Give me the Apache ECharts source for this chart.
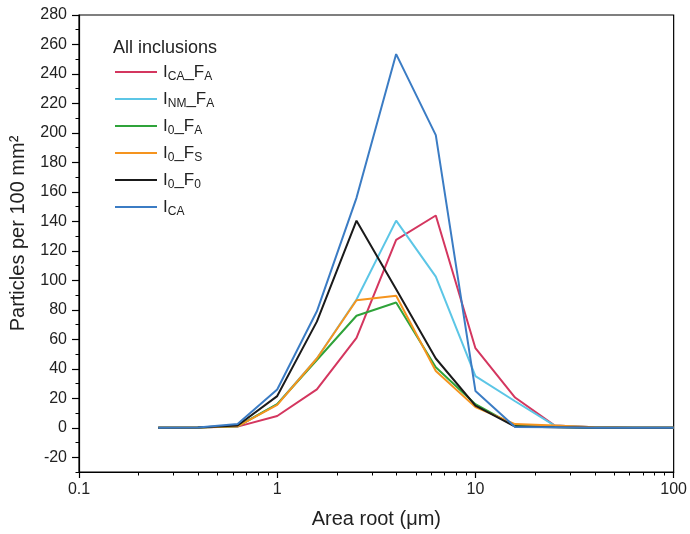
<!DOCTYPE html>
<html>
<head>
<meta charset="utf-8">
<title>Particle size distribution</title>
<script src="https://cdn.jsdelivr.net/npm/echarts@6/dist/echarts.min.js"></script>
<style>
  html, body { margin: 0; padding: 0; background: #fff; }
  #chart { width: 690px; height: 534px; }
</style>
</head>
<body>
<div id="chart"></div>
<script>
// Size classes (area root, µm) on a log axis
const areaRoot = [0.251, 0.398, 0.631, 1, 1.585, 2.512, 3.981, 6.31, 10, 15.85, 25.12, 39.81, 63.1, 100];

// Particles per 100 mm² for each inclusion class
const ica_fa = [0, 0.2, 0.8, 8, 26, 61, 127.5, 144, 54, 20.5, 1.5, 0.3, 0, 0];
const inm_fa = [0, 0.2, 1, 16, 47, 87, 140.5, 102.5, 35, 18, 1.5, 0.3, 0, 0];
const i0_fa  = [0, 0.2, 1, 16, 46, 76, 85, 41, 16, 1.2, 0.5, 0, 0, 0];
const i0_fs  = [0, 0.2, 1, 15.5, 47, 86.5, 89.5, 38.5, 14, 2.5, 1.5, 0.3, 0, 0];
const i0_f0  = [0, 0.2, 1.5, 21.5, 72, 140.5, 94, 47, 15, 0.8, 0.3, 0, 0, 0];
const ica    = [0, 0.2, 2.5, 26, 79, 156, 253.5, 198.5, 25, 0.5, 0.3, 0, 0, 0];

// Tick values
const yMajorTicks = [-20, 0, 20, 40, 60, 80, 100, 120, 140, 160, 180, 200, 220, 240, 260, 280];
const xMinorTicks = [0.2, 0.3, 0.4, 0.5, 0.6, 0.7, 0.8, 0.9,
                     2, 3, 4, 5, 6, 7, 8, 9,
                     20, 30, 40, 50, 60, 70, 80, 90];

// Legend labels as rich text: main letter + subscript
const seriesDefs = [
  { name: 'ICA_FA', label: 'I{s|CA}_F{s|A}', data: ica_fa, color: '#d4365f' },
  { name: 'INM_FA', label: 'I{s|NM}_F{s|A}', data: inm_fa, color: '#5cc6e6' },
  { name: 'I0_FA',  label: 'I{s|0}_F{s|A}',  data: i0_fa,  color: '#2fa33a' },
  { name: 'I0_FS',  label: 'I{s|0}_F{s|S}',  data: i0_fs,  color: '#f5941e' },
  { name: 'I0_F0',  label: 'I{s|0}_F{s|0}',  data: i0_f0,  color: '#1a1a1a' },
  { name: 'ICA',    label: 'I{s|CA}',        data: ica,    color: '#3b7cc4' }
];
const labelByName = {};
seriesDefs.forEach(d => { labelByName[d.name] = d.label; });

const FONT = '"Liberation Sans", Arial, Helvetica, sans-serif';
const TEXT = '#222';
const chart = echarts.init(document.getElementById('chart'), null, { renderer: 'canvas' });

chart.setOption({
  backgroundColor: '#fff',
  animation: false,
  textStyle: { fontFamily: FONT, color: TEXT },
  title: {
    text: 'All inclusions',
    left: 108, top: 34,
    textStyle: { fontFamily: FONT, fontSize: 18, fontWeight: 'normal', color: TEXT }
  },
  legend: {
    orient: 'vertical',
    left: 110, top: 56,
    itemWidth: 42, itemHeight: 22, itemGap: 5,
    icon: 'path://M0,0 L42,0 L42,2 L0,2 Z',
    data: seriesDefs.map(d => d.name),
    formatter: name => labelByName[name],
    textStyle: {
      fontFamily: FONT, fontSize: 17, color: TEXT, lineHeight: 22, padding: [0, 0, 0, 1],
      rich: {
        s: { fontFamily: FONT, fontSize: 12, lineHeight: 10, verticalAlign: 'bottom', color: TEXT }
      }
    }
  },
  grid: {
    left: 79, right: 16, top: 15, bottom: 62,
    show: true, borderColor: '#000', borderWidth: 1.2, backgroundColor: 'transparent'
  },
  xAxis: [
    {
      type: 'log', logBase: 10, min: 0.1, max: 100,
      name: 'Area root (\u03bcm)', nameLocation: 'middle', nameGap: 37,
      nameTextStyle: { fontFamily: FONT, fontSize: 20, color: TEXT },
      axisLine: { show: true, onZero: false, lineStyle: { color: '#000', width: 1.2 } },
      axisTick: { show: true, inside: false, length: 6, lineStyle: { color: '#000', width: 1.2 } },
      axisLabel: { fontFamily: FONT, fontSize: 16, color: TEXT, margin: 10 },
      splitLine: { show: false }
    },
    {
      type: 'log', logBase: 10, min: 0.1, max: 100, position: 'bottom',
      axisLine: { show: false, onZero: false },
      axisTick: { show: true, inside: false, length: 3.5, customValues: xMinorTicks, lineStyle: { color: '#000', width: 1 } },
      axisLabel: { show: false },
      splitLine: { show: false }
    }
  ],
  yAxis: [
    {
      type: 'value', min: -30, max: 280,
      name: 'Particles per 100 mm\u00b2', nameLocation: 'middle', nameGap: 51,
      nameTextStyle: { fontFamily: FONT, fontSize: 20, color: TEXT, padding: [0, 0, 0, 20] },
      axisLine: { show: true, onZero: false, lineStyle: { color: '#000', width: 1.2 } },
      axisTick: { show: true, inside: false, length: 7, customValues: yMajorTicks, lineStyle: { color: '#000', width: 1.2 } },
      axisLabel: { fontFamily: FONT, fontSize: 16, color: TEXT, margin: 12, customValues: yMajorTicks },
      splitLine: { show: false }
    },
    {
      type: 'value', min: -30, max: 280, interval: 10, position: 'left',
      axisLine: { show: false, onZero: false },
      axisTick: { show: true, inside: false, length: 3.5, lineStyle: { color: '#000', width: 1 } },
      axisLabel: { show: false },
      splitLine: { show: false }
    }
  ],
  series: seriesDefs.map(d => ({
    name: d.name,
    type: 'line',
    xAxisIndex: 0,
    yAxisIndex: 0,
    symbol: 'none',
    color: d.color,
    lineStyle: { color: d.color, width: 2 },
    data: areaRoot.map((x, i) => [x, d.data[i]])
  }))
});
</script>
</body>
</html>
